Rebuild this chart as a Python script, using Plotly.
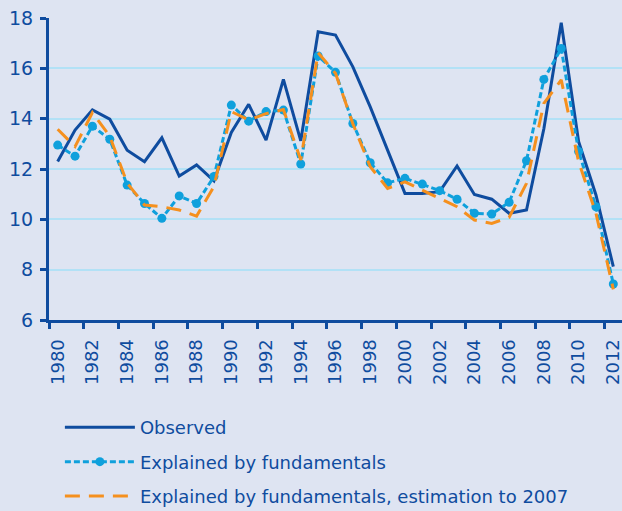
import plotly.graph_objects as go

years = list(range(1980, 2013))
observed = [12.30, 13.55, 14.35, 13.98, 12.75, 12.29, 13.24, 11.72, 12.16, 11.53,
            13.45, 14.57, 13.15, 15.56, 13.12, 17.45, 17.32, 16.06, 14.47, 12.75,
            11.03, 11.03, 11.10, 12.12, 10.99, 10.80, 10.24, 10.37, 13.60, 17.81,
            13.09, 10.97, 8.12]
fundamentals = [12.95, 12.51, 13.70, 13.18, 11.36, 10.63, 10.04, 10.93, 10.63, 11.70,
                14.54, 13.90, 14.28, 14.34, 12.20, 16.49, 15.84, 13.81, 12.25, 11.45,
                11.63, 11.40, 11.14, 10.80, 10.24, 10.21, 10.68, 12.33, 15.56, 16.79,
                12.70, 10.50, 7.43]
estimation_2007 = [13.58, 12.89, 14.24, 13.30, 11.44, 10.57, 10.50, 10.37, 10.13, 11.30,
                   14.28, 13.95, 14.20, 14.36, 12.36, 16.62, 15.80, 13.80, 12.09, 11.23,
                   11.49, 11.16, 10.83, 10.50, 9.97, 9.84, 10.08, 11.43, 14.61, 15.54,
                   12.30, 10.24, 7.22]
x_tick_years = list(range(1980, 2013, 2))
y_ticks = [6, 8, 10, 12, 14, 16, 18]

DARK = "#0F4C9F"
CYAN = "#0FA0DC"
ORANGE = "#F5901E"
BG = "#DEE4F2"
GRID = "#B2E1F6"
FONT = "DejaVu Sans"

fig = go.Figure()
fig.add_trace(go.Scatter(x=years, y=observed, name="Observed", mode="lines",
                         line=dict(color=DARK, width=3), legendgroup="a"))
fig.add_trace(go.Scatter(x=years, y=fundamentals, name="Explained by fundamentals",
                         mode="lines+markers",
                         line=dict(color=CYAN, width=3, dash="6px,3px"),
                         marker=dict(color=CYAN, size=9), legendgroup="b"))
fig.add_trace(go.Scatter(x=years, y=estimation_2007,
                         name="Explained by fundamentals, estimation to 2007",
                         mode="lines",
                         line=dict(color=ORANGE, width=3, dash="15px,9px"),
                         legendgroup="c"))

fig.update_layout(
    width=622, height=511,
    margin=dict(l=49, r=0, t=18, b=191, autoexpand=False),
    paper_bgcolor=BG, plot_bgcolor=BG,
    font=dict(family=FONT, color=DARK, size=18),
    showlegend=True,
    legend=dict(x=0.019, y=-0.295, xanchor="left", yanchor="top",
                bgcolor="rgba(0,0,0,0)", font=dict(size=18, color=DARK),
                tracegroupgap=8, itemwidth=70),
    xaxis=dict(range=[1979.5, 2012.5], tickmode="array", tickvals=x_tick_years,
               ticktext=[str(y) for y in x_tick_years], tickangle=-90,
               ticks="", showgrid=False, zeroline=False, automargin=False,
               showline=True, linecolor=DARK, linewidth=3,
               ticklabelstandoff=9, ticklabeloverflow="allow",
               tickfont=dict(size=18, color=DARK),
               minor=dict(tick0=1979.5, dtick=2, ticks="outside", ticklen=6,
                          tickwidth=3, tickcolor=DARK, showgrid=False)),
    yaxis=dict(range=[6, 18], tickmode="array", tickvals=y_ticks,
               ticks="outside", ticklen=6, tickwidth=3, tickcolor=DARK,
               showline=True, linecolor=DARK, linewidth=3, automargin=False,
               ticklabelstandoff=3,
               showgrid=True, gridcolor=GRID, gridwidth=2, zeroline=False,
               tickfont=dict(size=19, color=DARK)),
)

fig.write_html("out.html", config={"displayModeBar": False},
               post_script="document.body.style.margin='0';")
